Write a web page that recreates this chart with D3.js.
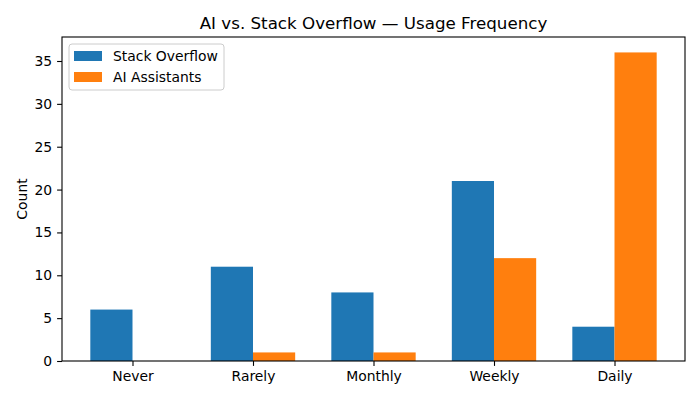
<!DOCTYPE html>
<html>
<head>
<meta charset="utf-8">
<script src="https://cdn.jsdelivr.net/npm/d3@7"></script>
<style>
  body { margin: 0; background: #fff; }
  text { font-family: "DejaVu Sans", sans-serif; }
</style>
</head>
<body>
<svg id="chart" width="700" height="400"></svg>
<script>
const categories = ['Never', 'Rarely', 'Monthly', 'Weekly', 'Daily']
const stackOverflow = [6, 11, 8, 21, 4]
const aiAssistants = [0, 1, 1, 12, 36]
const yTicks = [0, 5, 10, 15, 20, 25, 30, 35]
const seriesNames = ['Stack Overflow', 'AI Assistants']
const colors = ['#1f77b4', '#ff7f0e']

const margin = { top: 37, right: 15, bottom: 39, left: 62 }
const width = 700 - margin.left - margin.right
const height = 400 - margin.top - margin.bottom
const barW = 0.35

const svg = d3.select('#chart')
const g = svg.append('g')
  .attr('transform', `translate(${margin.left},${margin.top})`)

const x = d3.scaleLinear()
  .domain([-barW - 0.235, categories.length - 1 + barW + 0.235])
  .range([0, width])

const ymax = d3.max(aiAssistants.concat(stackOverflow)) * 1.05
const y = d3.scaleLinear().domain([0, ymax]).range([height, 0])

const series = [stackOverflow, aiAssistants]
series.forEach((vals, si) => {
  const off = si === 0 ? -barW : 0
  g.selectAll('.bar' + si)
    .data(vals)
    .enter().append('rect')
      .attr('class', 'bar' + si)
      .attr('x', (d, i) => x(i + off))
      .attr('width', x(barW) - x(0))
      .attr('y', d => y(d))
      .attr('height', d => y(0) - y(d))
      .attr('fill', colors[si])
})

const xAxis = d3.axisBottom(x)
  .tickValues(d3.range(categories.length))
  .tickFormat(i => categories[i])
  .tickSizeOuter(0)
  .tickSize(4.9)
  .tickPadding(4.9)
const yAxis = d3.axisLeft(y)
  .tickValues(yTicks)
  .tickSizeOuter(0)
  .tickSize(4.9)
  .tickPadding(4.9)

const xg = g.append('g').attr('transform', `translate(0,${height})`).call(xAxis)
const yg = g.append('g').call(yAxis)
;[xg, yg].forEach(a => {
  a.select('.domain').remove()
  a.selectAll('text').attr('font-size', 13.9).attr('fill', '#000')
    .style('font-family', '"DejaVu Sans", sans-serif')
  a.selectAll('line').attr('stroke', '#000').attr('stroke-width', 1.1)
})

g.append('rect')
  .attr('width', width).attr('height', height)
  .attr('fill', 'none').attr('stroke', '#000').attr('stroke-width', 1.1)

svg.append('text')
  .attr('x', margin.left + width / 2).attr('y', 29)
  .attr('text-anchor', 'middle').attr('font-size', 16.7)
  .text('AI vs. Stack Overflow — Usage Frequency')

svg.append('text')
  .attr('transform', `translate(27,${margin.top + height / 2}) rotate(-90)`)
  .attr('text-anchor', 'middle').attr('font-size', 13.9)
  .text('Count')

const leg = g.append('g').attr('transform', 'translate(7,7)')
leg.append('rect')
  .attr('width', 155).attr('height', 46).attr('rx', 3)
  .attr('fill', '#fff').attr('fill-opacity', 0.8)
  .attr('stroke', '#ccc').attr('stroke-width', 1)
seriesNames.forEach((name, i) => {
  leg.append('rect')
    .attr('x', 5).attr('y', 7 + i * 21)
    .attr('width', 28).attr('height', 10)
    .attr('fill', colors[i])
  leg.append('text')
    .attr('x', 44).attr('y', 17 + i * 21)
    .attr('font-size', 13.9)
    .text(name)
})
</script>
</body>
</html>
